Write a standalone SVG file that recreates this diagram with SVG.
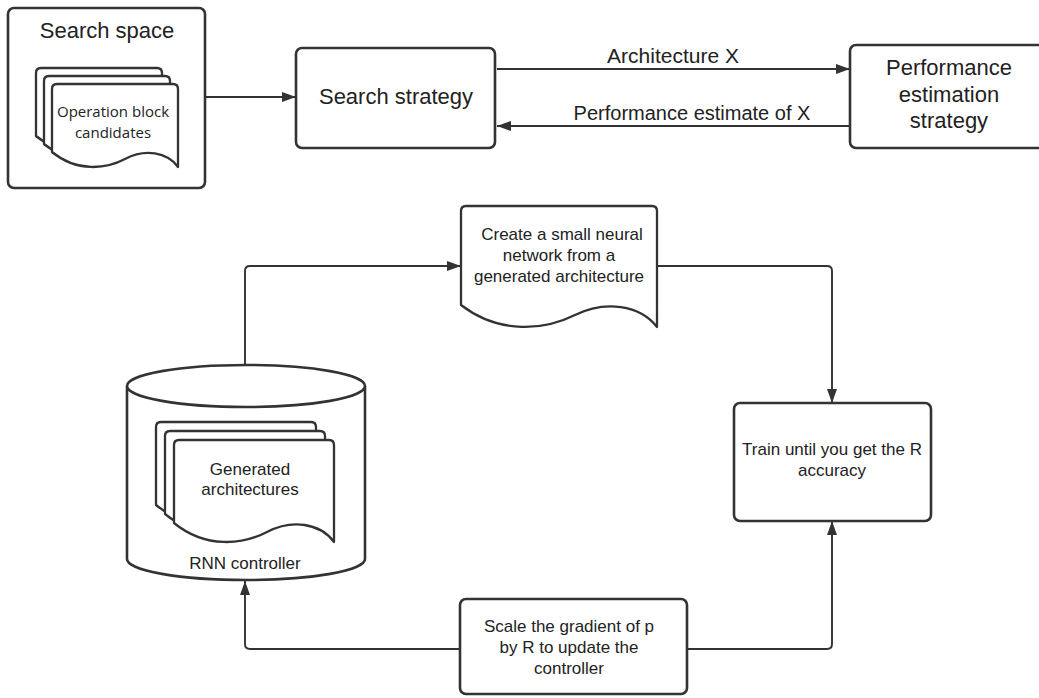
<svg xmlns="http://www.w3.org/2000/svg" width="1039" height="698" viewBox="0 0 1039 698">
<style>
.box{fill:#fff;stroke:#333;stroke-width:2.6}
.doc{fill:#fff;stroke:#333;stroke-width:2.3;stroke-linejoin:round}
.conn{fill:none;stroke:#333;stroke-width:1.9}
text{font-family:"Liberation Sans",Arial,sans-serif;fill:#222;text-anchor:middle}
.t22{font-size:22px}
.t21{font-size:21px}
.t20{font-size:20px}
.t17{font-size:17px}
.os{font-family:"Open Sans","Noto Sans",sans-serif;font-size:15px}
</style>
<defs>
<marker id="ah" markerUnits="userSpaceOnUse" markerWidth="14" markerHeight="10" refX="14" refY="5" orient="auto">
<path d="M0,0 L14,5 L0,10 Z" fill="#333"/>
</marker>
</defs>
<rect width="1039" height="698" fill="#fff"/>
<g id="connectors">
<path class="conn" d="M205,97 H296" marker-end="url(#ah)"/>
<path class="conn" d="M497,69 H850" marker-end="url(#ah)"/>
<path class="conn" d="M850,126 H497" marker-end="url(#ah)"/>
<path class="conn" d="M245,365 V271 Q245,266 250,266 H461" marker-end="url(#ah)"/>
<path class="conn" d="M657,266 H827 Q832,266 832,271 V403" marker-end="url(#ah)"/>
<path class="conn" d="M460,649 H250 Q245,649 245,644 V581" marker-end="url(#ah)"/>
<path class="conn" d="M687,649 H827 Q832,649 832,644 V521" marker-end="url(#ah)"/>
</g>
<g id="search-space">
<rect class="box" x="8" y="8" width="197" height="180" rx="6"/>
<text class="t22" x="107" y="38">Search space</text>
<path class="doc" d="M41,68 H157 Q162,68 162,73 V151 C151,136 129,132.5 109,143 C90,153 61,156.5 36,136 V73 Q36,68 41,68 Z"/>
<path class="doc" d="M49,76 H165 Q170,76 170,81 V159 C159,144 137,140.5 117,151 C98,161 69,164.5 44,144 V81 Q44,76 49,76 Z"/>
<path class="doc" d="M57,84 H173 Q178,84 178,89 V167 C167,152 145,148.5 125,159 C106,169 77,172.5 52,152 V89 Q52,84 57,84 Z"/>
<text class="os" x="113" y="117">Operation block</text>
<text class="os" x="113" y="138">candidates</text>
</g>
<g id="search-strategy">
<rect class="box" x="296" y="48" width="199" height="100" rx="6"/>
<text class="t22" x="396" y="104">Search strategy</text>
</g>
<g id="label-arch">
<text class="t21" x="673" y="63">Architecture X</text>
</g>
<g id="label-perf">
<text class="t20" x="692" y="120">Performance estimate of X</text>
</g>
<g id="performance-estimation">
<rect class="box" x="850" y="45" width="200" height="103" rx="6"/>
<text class="t22" x="949" y="75">Performance</text>
<text class="t22" x="949" y="102">estimation</text>
<text class="t22" x="949" y="128">strategy</text>
</g>
<g id="create-network">
<path class="doc" d="M466,206 H652 Q657,206 657,211 V327 C640,305 605,300 575,315 C545,330 500,335 461,305 V211 Q461,206 466,206 Z"/>
<text class="t17" x="562" y="240">Create a small neural</text>
<text class="t17" x="559" y="261">network from a</text>
<text class="t17" x="559" y="282">generated architecture</text>
</g>
<g id="rnn-controller">
<path class="box" d="M127,386 V559 A119,21 0 0 0 365,559 V386"/>
<ellipse class="box" cx="246" cy="386" rx="119" ry="21"/>
<path class="doc" d="M161,422 H311 Q316,422 316,427 V524 C302,505 274,501 249,514 C225,526.5 188,531 156,505 V427 Q156,422 161,422 Z"/>
<path class="doc" d="M170,431 H320 Q325,431 325,436 V533 C311,514 283,510 258,523 C234,535.5 197,540 165,514 V436 Q165,431 170,431 Z"/>
<path class="doc" d="M179,440 H329 Q334,440 334,445 V542 C320,523 292,519 267,532 C243,544.5 206,549 174,523 V445 Q174,440 179,440 Z"/>
<text class="t17" x="250" y="475">Generated</text>
<text class="t17" x="250" y="495">architectures</text>
<text class="t17" x="245" y="569">RNN controller</text>
</g>
<g id="train">
<rect class="box" x="734" y="403" width="197" height="118" rx="6"/>
<text class="t17" x="832" y="455">Train until you get the R</text>
<text class="t17" x="832" y="476">accuracy</text>
</g>
<g id="scale-gradient">
<rect class="box" x="460" y="599" width="227" height="95" rx="6"/>
<text class="t17" x="569" y="632">Scale the gradient of p</text>
<text class="t17" x="569" y="653">by R to update the</text>
<text class="t17" x="569" y="674">controller</text>
</g>
</svg>
